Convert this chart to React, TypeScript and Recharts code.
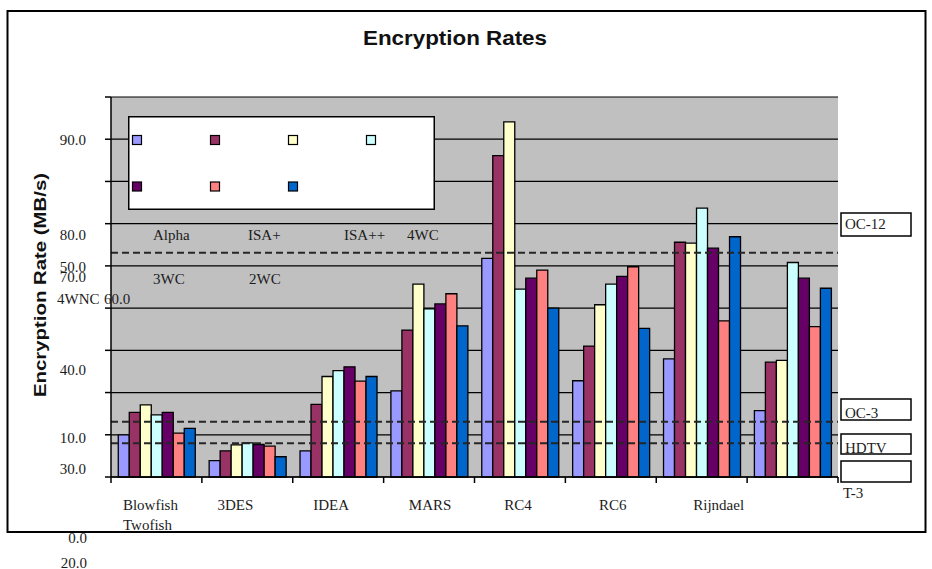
import React from "react";
import { BarChart, Bar, XAxis, YAxis, CartesianGrid, ReferenceLine, Legend } from "recharts";

// ---- data ----
const categories = ["Blowfish", "3DES", "IDEA", "MARS", "RC4", "RC6", "Rijndael", "Twofish"];

const alpha = [10.0, 3.9, 6.2, 20.4, 51.8, 22.8, 28.0, 15.7];
const isaPlus = [15.3, 6.2, 17.2, 34.8, 76.1, 31.0, 55.6, 27.2];
const isaPlusPlus = [17.1, 7.6, 23.8, 45.7, 84.1, 40.8, 55.4, 27.6];
const fourWC = [14.7, 8.1, 25.2, 39.8, 44.5, 45.7, 63.7, 50.8];
const fourWNC = [15.3, 7.7, 26.1, 41.0, 47.1, 47.5, 54.2, 47.1];
const threeWC = [10.4, 7.3, 22.7, 43.4, 49.0, 49.8, 37.0, 35.6];
const twoWC = [11.5, 4.8, 23.8, 35.8, 40.0, 35.2, 56.9, 44.7];

const seriesNames = ["Alpha", "ISA+", "ISA++", "4WC", "4WNC", "3WC", "2WC"];
const seriesValues = [alpha, isaPlus, isaPlusPlus, fourWC, fourWNC, threeWC, twoWC];
const seriesColors = ["#9999FF", "#993366", "#FFFFCC", "#CCFFFF", "#660066", "#FF8080", "#0066CC"];

const yTicks = [0, 10, 20, 30, 40, 50, 60, 70, 80, 90];
const yTickLabels = ["0.0", "10.0", "20.0", "30.0", "40.0", "50.0", "60.0", "70.0", "80.0", "90.0"];

// link-speed thresholds (dashed lines)
const lineNames = ["OC-12", "OC-3", "HDTV"];
const lineValues = [53.1, 13.1, 8.0];
const tagNames = ["OC-12", "OC-3", "HDTV", "", "T-3"];

const data = categories.map((name, i) => {
  const row: Record<string, string | number> = { name };
  seriesNames.forEach((s, k) => {
    row[s] = seriesValues[k][i];
  });
  return row;
});

// ---- layout ----
const W = 932;
const H = 569;
const PLOT_LEFT = 111;
const PLOT_RIGHT = 838;
const PLOT_TOP = 97;
const PLOT_BOTTOM = 477;
const BAND = (PLOT_RIGHT - PLOT_LEFT) / categories.length;
const SERIF = "'Liberation Serif', 'Times New Roman', serif";
const SANS = "'Liberation Sans', Arial, sans-serif";
const TEXT = "#1c1c1c";

const LEGEND = { x: 128, y: 116, w: 307, h: 94 };
// where each series name ended up
const legendTextPos = [
  { x: 153, y: 240 },
  { x: 248, y: 240 },
  { x: 344, y: 240 },
  { x: 407, y: 240 },
  { x: 57, y: 304 },
  { x: 153, y: 284 },
  { x: 249, y: 284 },
];
// y tick labels, in yTickLabels order
const yLabelPos = [
  { x: 87, y: 543, anchor: "end" },
  { x: 86, y: 443, anchor: "end" },
  { x: 87, y: 568, anchor: "end" },
  { x: 86, y: 474, anchor: "end" },
  { x: 86, y: 375, anchor: "end" },
  { x: 86, y: 272, anchor: "end" },
  { x: 104, y: 304, anchor: "start" },
  { x: 86, y: 282, anchor: "end" },
  { x: 86, y: 240, anchor: "end" },
  { x: 86, y: 145, anchor: "end" },
];
const labelNudge = [-6, -12, -7, 1, -2, 2, 17, -9];
const tagBoxes = [
  { x: 841, y: 213, w: 70, h: 23, tx: 845, ty: 229 },
  { x: 841, y: 399, w: 70, h: 21, tx: 845, ty: 418 },
  { x: 841, y: 434, w: 70, h: 20, tx: 845, ty: 453 },
  { x: 841, y: 461, w: 70, h: 21, tx: 845, ty: 477 },
  { x: 0, y: 0, w: 0, h: 0, tx: 843, ty: 498 },
];

// y labels are drawn separately; keep the tick marks only
const NoLabel = () => <g />;

const CategoryTick = (props: any) => {
  const { x, index, payload } = props;
  const last = index === categories.length - 1;
  const lx = (last ? x - index * BAND : x) + labelNudge[index];
  const ly = PLOT_BOTTOM + (last ? 53 : 33);
  return (
    <g>
      <line x1={x - BAND / 2} x2={x - BAND / 2} y1={PLOT_BOTTOM} y2={PLOT_BOTTOM + 6} stroke="#000" strokeWidth={1.5} />
      {last && (
        <line x1={x + BAND / 2} x2={x + BAND / 2} y1={PLOT_BOTTOM} y2={PLOT_BOTTOM + 6} stroke="#000" strokeWidth={1.5} />
      )}
      <text x={lx} y={ly} textAnchor="middle" fontFamily={SERIF} fontSize={15} fill={TEXT}>
        {payload.value}
      </text>
    </g>
  );
};

const LegendBox = (props: any) => {
  const payload: any[] = props.payload ?? [];
  const items = seriesNames.map((name, i) => {
    const p = payload.find((e) => e.value === name);
    return { name, color: p?.color ?? seriesColors[i] };
  });
  return (
    <svg width={LEGEND.w} height={LEGEND.h} style={{ overflow: "visible", display: "block" }}>
      <rect x={0.75} y={0.75} width={LEGEND.w - 1.5} height={LEGEND.h - 1.5} fill="#fff" stroke="#000" strokeWidth={1.5} />
      {items.map((it, i) => {
        const col = i < 4 ? i : i - 4;
        const row = i < 4 ? 0 : 1;
        const cx = 9 + col * 78;
        const cy = 24 + row * 46.5;
        return <rect key={it.name} x={cx - 4.5} y={cy - 4.5} width={9} height={9} fill={it.color} stroke="#000" strokeWidth={1.2} />;
      })}
      {items.map((it, i) => (
        <text
          key={"t" + it.name}
          x={legendTextPos[i].x - LEGEND.x}
          y={legendTextPos[i].y - LEGEND.y}
          fontFamily={SERIF}
          fontSize={15}
          fill={TEXT}
        >
          {it.name}
        </text>
      ))}
    </svg>
  );
};

export default function App() {
  return (
    <div style={{ position: "absolute", left: 0, top: 0, width: W, height: H, background: "#fff" }}>
      <BarChart
        width={W}
        height={H}
        data={data}
        margin={{ top: PLOT_TOP, right: W - PLOT_RIGHT, left: PLOT_LEFT - 60, bottom: H - PLOT_BOTTOM - 40 }}
        barCategoryGap="8%"
        barGap={0}
      >
        <CartesianGrid horizontal vertical={false} stroke="#000" strokeWidth={1.2} fill="#C0C0C0" fillOpacity={1} />
        <XAxis
          dataKey="name"
          interval={0}
          height={40}
          tickLine={false}
          tickSize={6}
          tickMargin={2}
          axisLine={{ stroke: "#000", strokeWidth: 1.5 }}
          tick={<CategoryTick />}
        />
        <YAxis
          width={60}
          domain={[0, 90]}
          ticks={yTicks}
          interval={0}
          tick={<NoLabel />}
          tickSize={6}
          tickLine={{ stroke: "#000", strokeWidth: 1.5 }}
          axisLine={{ stroke: "#000", strokeWidth: 1.5 }}
        />
        {seriesNames.map((name, i) => (
          <Bar key={name} dataKey={name} name={name} fill={seriesColors[i]} stroke="#000" strokeWidth={1.3} isAnimationActive={false} />
        ))}
        {lineNames.map((name, i) => (
          <ReferenceLine key={name} y={lineValues[i]} stroke="#262626" strokeWidth={2} strokeDasharray="7 4" />
        ))}
        <Legend
          verticalAlign="middle"
          align="center"
          layout="horizontal"
          content={<LegendBox />}
          wrapperStyle={{ left: LEGEND.x, top: LEGEND.y, width: LEGEND.w, height: LEGEND.h }}
        />
      </BarChart>

      <svg width={W} height={H} style={{ position: "absolute", left: 0, top: 0, pointerEvents: "none" }}>
        <rect x={7.5} y={11} width={918} height={521} fill="none" stroke="#000" strokeWidth={2} />
        <text x={455} y={45} textAnchor="middle" fontFamily={SANS} fontWeight="bold" fontSize={21} textLength={184} lengthAdjust="spacingAndGlyphs" fill="#111">
          Encryption Rates
        </text>
        <text
          x={40}
          y={285}
          transform="rotate(-90 40 285)"
          textAnchor="middle"
          dy="0.36em"
          fontFamily={SANS}
          fontWeight="bold"
          fontSize={16}
          textLength={224}
          lengthAdjust="spacingAndGlyphs"
          fill="#111"
        >
          Encryption Rate (MB/s)
        </text>
        {yTickLabels.map((t, i) => (
          <text key={t} x={yLabelPos[i].x} y={yLabelPos[i].y} textAnchor={yLabelPos[i].anchor as any} fontFamily={SERIF} fontSize={15} fill={TEXT}>
            {t}
          </text>
        ))}
        {tagNames.map((t, i) => (
          <g key={"tag" + i}>
            {tagBoxes[i].w > 0 && (
              <rect x={tagBoxes[i].x} y={tagBoxes[i].y} width={tagBoxes[i].w} height={tagBoxes[i].h} fill="#fff" stroke="#000" strokeWidth={1.5} />
            )}
            {t && (
              <text x={tagBoxes[i].tx} y={tagBoxes[i].ty} fontFamily={SERIF} fontSize={15} fill={TEXT}>
                {t}
              </text>
            )}
          </g>
        ))}
      </svg>
    </div>
  );
}
